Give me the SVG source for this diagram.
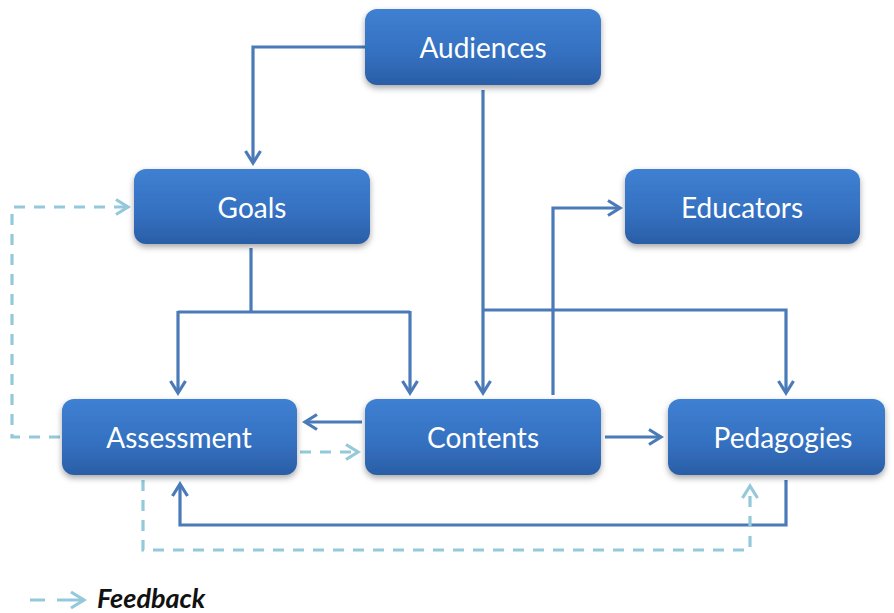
<svg xmlns="http://www.w3.org/2000/svg" width="894" height="613" viewBox="0 0 894 613">
<style>
.box{fill:url(#g);filter:url(#sh)}
.lbl{font-family:Lato,"Open Sans","Liberation Sans",sans-serif;font-size:28px;fill:#ffffff;text-anchor:middle;dominant-baseline:central}
.s{fill:none;stroke:#4a7ab8;stroke-width:3.2;stroke-linejoin:miter}
.d{fill:none;stroke:#93c9da;stroke-width:3.2;stroke-dasharray:11 9}
</style>
<defs>
<linearGradient id="g" x1="0" y1="0" x2="0" y2="1">
<stop offset="0" stop-color="#3f80d2"/>
<stop offset="0.6" stop-color="#3470c0"/>
<stop offset="1" stop-color="#2a5ea6"/>
</linearGradient>
<filter id="sh" x="-10%" y="-10%" width="120%" height="130%">
<feDropShadow dx="0" dy="3" stdDeviation="3" flood-color="#000" flood-opacity="0.35"/>
</filter>
<marker id="as" viewBox="0 0 18 18" refX="15" refY="9" markerWidth="18" markerHeight="18" markerUnits="userSpaceOnUse" orient="auto">
<path d="M3,1.5 L15,9 L3,16.5" fill="none" stroke="#4a7ab8" stroke-width="3.2"/>
</marker>
<marker id="ad" viewBox="0 0 18 18" refX="15" refY="9" markerWidth="18" markerHeight="18" markerUnits="userSpaceOnUse" orient="auto">
<path d="M3,1.5 L15,9 L3,16.5" fill="none" stroke="#93c9da" stroke-width="3.2"/>
</marker>
</defs>
<rect width="894" height="613" fill="#ffffff"/>
<g id="connectors">
<path class="s" d="M365,47 H253 V163" marker-end="url(#as)"/>
<path class="s" d="M483,90 V393" marker-end="url(#as)"/>
<path class="s" d="M483,310 H786 V393" marker-end="url(#as)"/>
<path class="s" d="M251,248 V312 M178,312 H410"/>
<path class="s" d="M178,311 V393" marker-end="url(#as)"/>
<path class="s" d="M410,311 V393" marker-end="url(#as)"/>
<path class="s" d="M553,395 V208 H620" marker-end="url(#as)"/>
<path class="s" d="M362,422 H305" marker-end="url(#as)"/>
<path class="s" d="M605,437 H661" marker-end="url(#as)"/>
<path class="s" d="M786,480 V525 H180 V484" marker-end="url(#as)"/>
<path class="d" d="M60,437 H12 V207 H128" marker-end="url(#ad)"/>
<path class="d" d="M300,452 H358" marker-end="url(#ad)"/>
<path class="d" d="M143,480 V550 H750 V486" marker-end="url(#ad)"/>
</g>
<g id="audiences"><rect class="box" x="365" y="9" width="236" height="76" rx="12"/><text class="lbl" x="483" y="47">Audiences</text></g>
<g id="goals"><rect class="box" x="134" y="169" width="236" height="75" rx="12"/><text class="lbl" x="252" y="207">Goals</text></g>
<g id="educators"><rect class="box" x="625" y="169" width="235" height="75" rx="12"/><text class="lbl" x="742" y="207">Educators</text></g>
<g id="assessment"><rect class="box" x="62" y="399" width="235" height="76" rx="12"/><text class="lbl" x="179" y="437">Assessment</text></g>
<g id="contents"><rect class="box" x="365" y="399" width="236" height="76" rx="12"/><text class="lbl" x="483" y="437">Contents</text></g>
<g id="pedagogies"><rect class="box" x="668" y="399" width="217" height="76" rx="12"/><text class="lbl" x="783" y="437">Pedagogies</text></g>
<g id="legend">
<path d="M30,600 H45 M57,600 H82" fill="none" stroke="#93c9da" stroke-width="3.2"/>
<path d="M71,592 L84,600 L71,608" fill="none" stroke="#93c9da" stroke-width="3.2"/>
<text x="97" y="608" font-family="Lato,'Open Sans','Liberation Sans',sans-serif" font-size="27" font-weight="bold" font-style="italic" fill="#111">Feedback</text>
</g>
</svg>
